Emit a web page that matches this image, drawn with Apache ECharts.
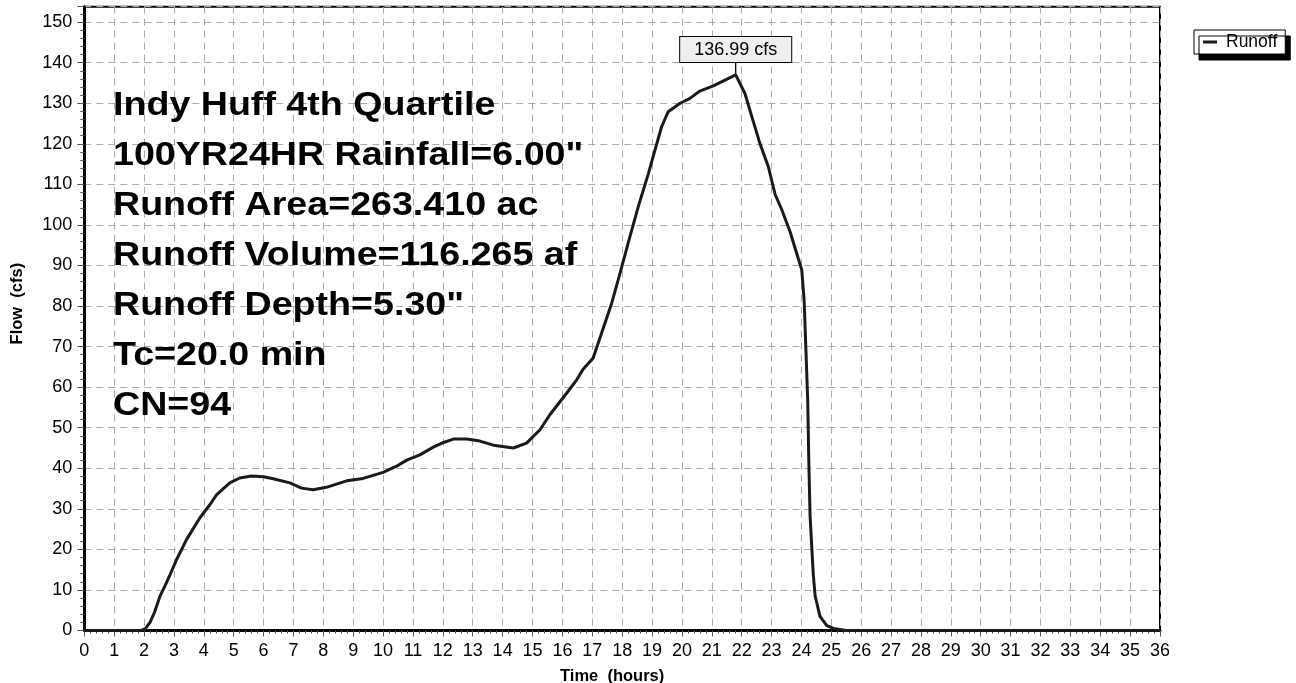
<!DOCTYPE html>
<html>
<head>
<meta charset="utf-8">
<script src="https://cdn.jsdelivr.net/npm/echarts@6/dist/echarts.min.js"></script>
<style>
html,body{margin:0;padding:0;background:#fff;}
#chart{width:1296px;height:683px;}
</style>
</head>
<body>
<div id="chart"></div>
<script>
// ---- data ----
const hours = [0, 1.9, 2.05, 2.2, 2.35, 2.53, 2.7, 2.86, 3.09, 3.42, 3.87, 4.2, 4.43, 4.87, 5.2, 5.6, 6.0, 6.32, 6.88, 7.27, 7.66, 8.1, 8.78, 9.33, 10.0, 10.45, 10.79, 11.23, 11.68, 12.0, 12.35, 12.8, 13.24, 13.69, 14.36, 14.8, 15.25, 15.58, 16.14, 16.48, 16.7, 17.03, 17.31, 17.65, 17.93, 18.26, 18.54, 18.88, 19.1, 19.32, 19.54, 19.94, 20.27, 20.6, 21.05, 21.8, 22.11, 22.34, 22.61, 22.89, 23.12, 23.34, 23.62, 23.84, 24.01, 24.09, 24.15, 24.21, 24.25, 24.29, 24.35, 24.4, 24.46, 24.62, 24.85, 25.07, 25.5, 36];
const flows = [0, 0, 0.5, 2, 4.5, 8.4, 11, 13.6, 17.5, 22.4, 27.8, 31, 33.5, 36.4, 37.6, 38.1, 37.9, 37.4, 36.4, 35.1, 34.7, 35.3, 36.9, 37.5, 39.0, 40.5, 42.0, 43.3, 45.2, 46.3, 47.2, 47.2, 46.7, 45.7, 45.0, 46.2, 49.5, 53.2, 58.5, 61.8, 64.5, 67.2, 73.3, 80.7, 88.1, 97.1, 104.5, 112.7, 118.5, 124.2, 127.9, 130.0, 131.2, 133.0, 134.3, 136.99, 132.4, 126.7, 120.1, 114.4, 107.5, 103.8, 98.3, 93, 88.9, 81.5, 69.2, 56.9, 40.5, 28.2, 20, 13.4, 8.5, 3.5, 1.2, 0.5, 0, 0];
const seriesName = 'Runoff';
const infoLines = [
  'Indy Huff 4th Quartile',
  '100YR24HR Rainfall=6.00"',
  'Runoff Area=263.410 ac',
  'Runoff Volume=116.265 af',
  'Runoff Depth=5.30"',
  'Tc=20.0 min',
  'CN=94'
];
const xName = 'Time  (hours)';
const yName = 'Flow  (cfs)';
const peakUnit = ' cfs';

// ---- build ----
const data = hours.map((h, i) => [h, flows[i]]);
let peakIdx = 0;
flows.forEach((v, i) => { if (v > flows[peakIdx]) peakIdx = i; });

const FONT = '"Liberation Sans", Arial, Helvetica, sans-serif';
const chart = echarts.init(document.getElementById('chart'), null, {renderer: 'canvas'});

const graphics = infoLines.map((t, i) => ({
  type: 'text',
  x: 113,
  y: 106.5 + i * 50,
  scaleX: 1.157,
  z: 100,
  style: {
    text: t,
    font: 'bold 32.5px ' + FONT,
    fill: '#000',
    verticalAlign: 'middle',
    align: 'left'
  }
}));

const option = {
  animation: false,
  backgroundColor: '#fff',
  textStyle: {fontFamily: FONT},
  grid: {
    left: 84.3, right: 136, top: 6.7, bottom: 52.5,
    outerBoundsMode: 'none',
    containLabel: false,
    show: true, borderColor: '#000', borderWidth: 2, backgroundColor: 'transparent'
  },
  legend: {
    data: [seriesName],
    left: 1194, top: 30,
    orient: 'vertical',
    backgroundColor: '#fff',
    borderColor: '#000',
    borderWidth: 1,
    borderRadius: 0,
    padding: [3, 8, 3, 9],
    itemWidth: 14,
    itemHeight: 3,
    icon: 'rect',
    shadowColor: '#000',
    shadowBlur: 0,
    shadowOffsetX: 5,
    shadowOffsetY: 6,
    textStyle: {fontSize: 17.5, color: '#000', fontFamily: FONT, padding: [0, 0, 0, 4]}
  },
  xAxis: {
    type: 'value',
    min: 0, max: 36, interval: 1,
    name: xName,
    nameLocation: 'middle',
    nameGap: 37,
    nameTextStyle: {fontSize: 16.5, fontWeight: 'bold', color: '#000', fontFamily: FONT, padding: [0, 20, 0, 0]},
    axisLine: {show: true, onZero: false, lineStyle: {color: '#000', width: 3}},
    axisTick: {show: true, length: 6, lineStyle: {color: '#555', width: 1}},
    minorTick: {show: true, splitNumber: 5, length: 3, lineStyle: {color: '#555', width: 1}},
    axisLabel: {fontSize: 18, color: '#000', margin: 12, fontFamily: FONT},
    splitLine: {show: true, lineStyle: {color: '#aaa', width: 1, type: [7, 5]}}
  },
  yAxis: {
    type: 'value',
    min: 0, max: 153.8, interval: 10,
    name: yName,
    nameLocation: 'middle',
    nameRotate: 90,
    nameGap: 58,
    nameTextStyle: {fontSize: 16.5, fontWeight: 'bold', color: '#000', fontFamily: FONT, padding: [0, 0, 0, 30]},
    axisLine: {show: true, onZero: false, lineStyle: {color: '#000', width: 3}},
    axisTick: {show: true, length: 7, lineStyle: {color: '#555', width: 1}},
    minorTick: {show: true, splitNumber: 5, length: 4, lineStyle: {color: '#555', width: 1}},
    axisLabel: {fontSize: 18, color: '#000', margin: 12, showMaxLabel: false, fontFamily: FONT},
    splitLine: {show: true, lineStyle: {color: '#aaa', width: 1, type: [7, 5]}}
  },
  series: [{
    name: seriesName,
    type: 'line',
    data: data,
    showSymbol: false,
    symbol: 'none',
    smooth: false,
    color: '#1a1a1a',
    lineStyle: {color: '#1a1a1a', width: 3},
    z: 5,
    markPoint: {
      silent: true,
      animation: false,
      symbol: 'rect',
      symbolSize: [1.3, 13],
      symbolOffset: [0, '-50%'],
      itemStyle: {color: '#000'},
      label: {
        show: true,
        position: 'top',
        distance: 0,
        formatter: () => flows[peakIdx].toFixed(2) + peakUnit,
        fontSize: 18,
        color: '#000',
        fontFamily: FONT,
        backgroundColor: '#efefef',
        borderColor: '#000',
        borderWidth: 1,
        padding: [4, 14, 3, 14]
      },
      data: [{coord: data[peakIdx], value: flows[peakIdx]}]
    }
  }],
  graphic: graphics
};
chart.setOption(option);
</script>
</body>
</html>
